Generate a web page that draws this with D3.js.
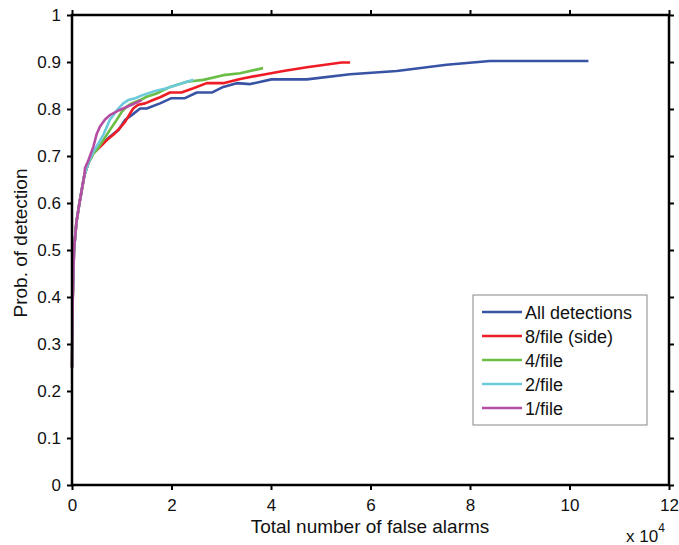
<!DOCTYPE html>
<html>
<head>
<meta charset="utf-8">
<script src="https://cdn.jsdelivr.net/npm/d3@7"></script>
<style>
  body { margin: 0; background: #fff; }
  svg text { font-family: "Liberation Sans", Arial, sans-serif; fill: #111; }
</style>
</head>
<body>
<svg width="679" height="545"></svg>
<script>
// x values are in units of 1e4 false alarms, y is probability of detection
const xTicks = [0, 2, 4, 6, 8, 10, 12];
const yTicks = [0, 0.1, 0.2, 0.3, 0.4, 0.5, 0.6, 0.7, 0.8, 0.9, 1];
const seriesNames = ['All detections', '8/file (side)', '4/file', '2/file', '1/file'];
const seriesColors = ['#3953a4', '#ee1c25', '#6abd45', '#6dcadb', '#b54ea3'];

const startSeg = [[0, 0.25], [0.005, 0.3], [0.015, 0.4], [0.04, 0.5], [0.09, 0.56], [0.15, 0.6], [0.25, 0.66], [0.33, 0.685]];

const allDetections = [[0.43, 0.709], [0.56, 0.72], [0.76, 0.741], [0.93, 0.755], [1.07, 0.777],
  [1.2, 0.787], [1.37, 0.801], [1.5, 0.801], [1.77, 0.812], [2.0, 0.823], [2.27, 0.823],
  [2.51, 0.835], [2.81, 0.835], [3.04, 0.847], [3.31, 0.855], [3.58, 0.853], [4.01, 0.863],
  [4.72, 0.863], [5.59, 0.874], [6.53, 0.881], [7.53, 0.894], [8.4, 0.902], [10.38, 0.902]];

const eightPerFile = [[0.43, 0.706], [0.53, 0.716], [0.7, 0.734], [0.83, 0.745], [0.96, 0.759],
  [1.07, 0.773], [1.17, 0.791], [1.23, 0.801], [1.33, 0.809], [1.47, 0.812], [1.63, 0.819],
  [1.77, 0.825], [1.97, 0.835], [2.2, 0.835], [2.44, 0.844], [2.71, 0.855], [3.04, 0.855],
  [3.38, 0.864], [3.78, 0.872], [4.25, 0.881], [4.72, 0.889], [5.42, 0.899], [5.59, 0.899]];

const fourPerFile = [[0.43, 0.705], [0.5, 0.713], [0.63, 0.734], [0.76, 0.755], [0.9, 0.777],
  [1.0, 0.794], [1.1, 0.805], [1.2, 0.812], [1.37, 0.819], [1.5, 0.826], [1.7, 0.833],
  [1.97, 0.847], [2.31, 0.858], [2.64, 0.862], [3.04, 0.872], [3.38, 0.876], [3.84, 0.887]];

const twoPerFile = [[0.43, 0.709], [0.53, 0.727], [0.63, 0.745], [0.7, 0.762], [0.76, 0.777],
  [0.83, 0.787], [0.93, 0.801], [1.03, 0.812], [1.13, 0.819], [1.27, 0.823], [1.43, 0.83],
  [1.63, 0.837], [1.9, 0.844], [2.1, 0.851], [2.44, 0.862]];

const onePerFile = [[0.26, 0.674], [0.33, 0.691], [0.43, 0.72], [0.5, 0.748], [0.56, 0.762],
  [0.66, 0.777], [0.76, 0.787], [0.96, 0.798], [1.2, 0.809], [1.4, 0.819]];

const series = [
  startSeg.concat(allDetections),
  startSeg.concat(eightPerFile),
  startSeg.concat(fourPerFile),
  startSeg.concat(twoPerFile),
  startSeg.slice(0, 7).concat(onePerFile)
];

const svg = d3.select('svg');
const margin = {left: 72, right: 10, top: 15, bottom: 60};
const W = 669, H = 485;

const x = d3.scaleLinear().domain([0, 12]).range([margin.left, W]);
const y = d3.scaleLinear().domain([0, 1]).range([H, margin.top]);

const line = d3.line().x(d => x(d[0])).y(d => y(d[1]));

// curves drawn back to front so that 1/file ends on top
const plot = svg.append('g');
for (let i = 0; i < series.length; i++) {
  plot.append('path')
    .datum(series[i])
    .attr('fill', 'none')
    .attr('stroke', seriesColors[i])
    .attr('stroke-width', 2.6)
    .attr('stroke-linejoin', 'round')
    .attr('d', line);
}

function styleAxis(g) {
  g.select('.domain').remove();
  g.selectAll('.tick line').attr('stroke', '#000').attr('stroke-width', 2);
  g.selectAll('.tick text').style('font-size', '17px').attr('fill', '#111');
}

svg.append('g').attr('transform', 'translate(0,' + H + ')')
  .call(d3.axisBottom(x).tickValues(xTicks).tickFormat(d3.format('d')).tickSize(5).tickPadding(9))
  .call(styleAxis);
svg.append('g').attr('transform', 'translate(0,' + margin.top + ')')
  .call(d3.axisTop(x).tickValues(xTicks).tickFormat('').tickSize(5))
  .call(styleAxis);
svg.append('g').attr('transform', 'translate(' + margin.left + ',0)')
  .call(d3.axisLeft(y).tickValues(yTicks).tickFormat(d3.format('')).tickSize(5).tickPadding(6))
  .call(styleAxis);
svg.append('g').attr('transform', 'translate(' + W + ',0)')
  .call(d3.axisRight(y).tickValues(yTicks).tickFormat('').tickSize(5))
  .call(styleAxis);

svg.append('rect')
  .attr('x', margin.left).attr('y', margin.top)
  .attr('width', W - margin.left).attr('height', H - margin.top)
  .attr('fill', 'none').attr('stroke', '#000').attr('stroke-width', 2.5);

// axis titles
svg.append('text')
  .attr('x', 370).attr('y', 533)
  .attr('text-anchor', 'middle').style('font-size', '19px')
  .text('Total number of false alarms');

svg.append('text')
  .attr('transform', 'translate(27,243) rotate(-90)')
  .attr('text-anchor', 'middle').style('font-size', '19px')
  .text('Prob. of detection');

const expo = svg.append('text').attr('x', 626).attr('y', 542).style('font-size', '17px');
expo.append('tspan').text('x 10');
expo.append('tspan').attr('dy', -10).style('font-size', '12px').text('4');

// legend
const lg = svg.append('g').attr('transform', 'translate(473,295)');
lg.append('rect').attr('width', 174).attr('height', 130)
  .attr('fill', '#fff').attr('stroke', '#888').attr('stroke-width', 1);
seriesNames.forEach((name, i) => {
  const yy = 17 + i * 24;
  lg.append('line').attr('x1', 9).attr('x2', 49).attr('y1', yy).attr('y2', yy)
    .attr('stroke', seriesColors[i]).attr('stroke-width', 2.6);
  lg.append('text').attr('x', 52).attr('y', yy + 6.5).style('font-size', '18px').text(name);
});
</script>
</body>
</html>
